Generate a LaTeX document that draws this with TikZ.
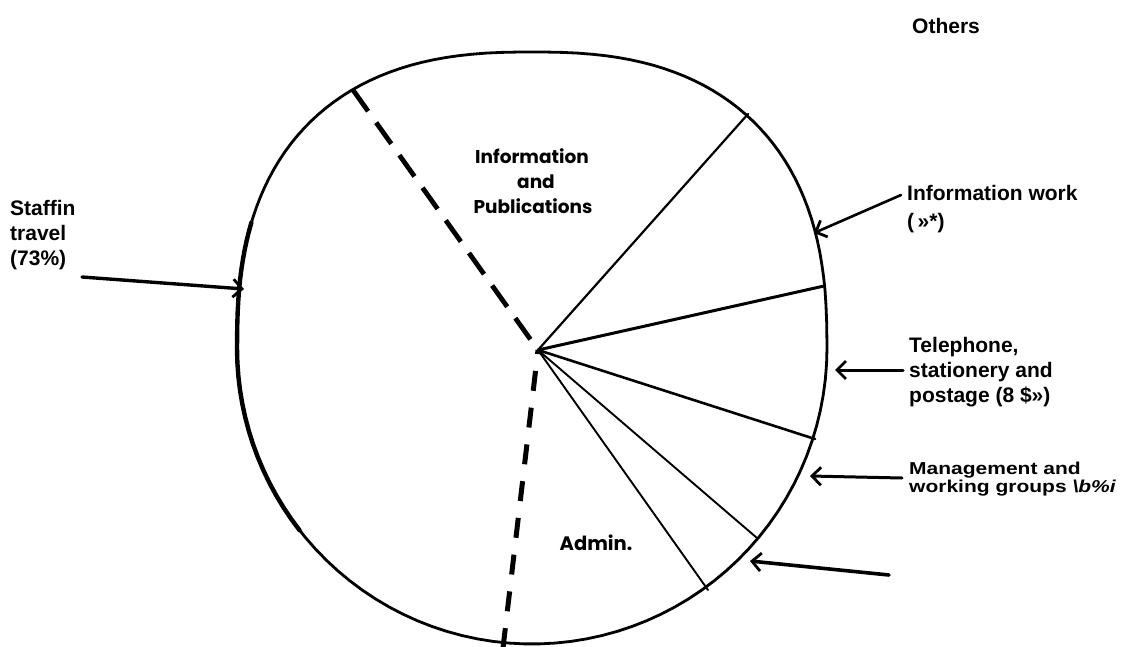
\documentclass[tikz,border=0pt]{standalone}
\usepackage{fontspec}
\setmainfont{Liberation Sans}
\newfontfamily\hand{Poppins}
\usetikzlibrary{arrows.meta}
\begin{document}
\begin{tikzpicture}[x=1pt,y=-1pt,
  rim/.style={line width=2.8pt, line join=round},
  sector/.style={line width=1.8pt, line cap=round},
  dashline/.style={line width=4.8pt, dash pattern=on 26pt off 14pt},
  dashlow/.style={line width=5pt, dash pattern=on 20pt off 17pt},
  pointer/.style={line width=2.8pt, line cap=round, -{Straight Barb[length=9pt,width=18pt,line width=2.8pt]}},
  lab/.style={anchor=base west, inner sep=0pt, font=\fontsize{21}{25}\selectfont\bfseries},
  inlab/.style={anchor=base, inner sep=0pt, font=\hand\fontsize{18.5}{22}\selectfont\bfseries}]
\useasboundingbox (0,0) rectangle (1135,646);
% rim of the pie (hand drawn: a little squarer at the top)
\draw[rim] plot[domain=0.5:179.5, samples=80] ({532+295*cos(\x)/abs(cos(\x))^0.2}, {348-296*sin(\x)^0.8})
  -- plot[domain=180:360, samples=60] ({532+295*cos(\x)}, {348-296*sin(\x)}) -- cycle;
\draw[line width=4.4pt, line cap=round] plot[domain=160:179.5, samples=12] ({532+295*cos(\x)/abs(cos(\x))^0.2}, {348-296*sin(\x)^0.8})
  -- plot[domain=180:218, samples=15] ({532+295*cos(\x)}, {348-296*sin(\x)});
% centre and rim points
\coordinate (O) at (538,350);
\coordinate (d1) at (353,90);
\coordinate (s1) at (748,114);
\coordinate (s2) at (824,286);
\coordinate (s3) at (815,439);
\coordinate (s4) at (757,538);
\coordinate (s5) at (708,590);
\coordinate (d2) at (503,648);
% sector lines
\draw[dashline] (d1) -- (O);
\draw[dashlow] (d2) -- (O);
\draw[sector, line width=2.2pt] (O) -- (s1);
\draw[sector, line width=3pt] (O) -- (s2);
\draw[sector, line width=2.6pt] (O) -- (s3);
\draw[sector, line width=1.9pt] (O) -- (s4);
\draw[sector, line width=1.9pt] (O) -- (s5);
% inner labels
\node[inlab] (ip1) at (532,163) {Information};
\node[inlab] (ip2) at (536,188) {and};
\node[inlab] (ip3) at (533,213) {Publications};
\node[inlab, font=\hand\fontsize{19.5}{22}\selectfont\bfseries] (adm) at (596,550) {Admin.};
% outer labels
\node[lab] (oth) at (912,33) {Others};
\node[lab] (st1) at (10,215) {Staffin};
\node[lab] (st2) at (10,240) {travel};
\node[lab] (st3) at (10,265) {(73\%)};
\node[lab] (iw1) at (907,200) {Information work};
\node[lab] (iw2) at (907,228) {(\,»*)};
\node[lab] (tp1) at (909,352) {Telephone,};
\node[lab] (tp2) at (909,377) {stationery and};
\node[lab] (tp3) at (909,402) {postage (8 \$»)};
\node[lab] (mg1) at (909,474) {\scalebox{1}[0.82]{Management and}};
\node[lab] (mg2) at (909,492) {\scalebox{1}[0.82]{working groups {\itshape\textbackslash b\%i}}};
% pointer arrows
\coordinate (a1s) at (82,277);  \coordinate (a1e) at (244,289);
\coordinate (a2s) at (901,195); \coordinate (a2e) at (814,233);
\coordinate (a3s) at (903,370); \coordinate (a3e) at (835,370);
\coordinate (a4s) at (902,478); \coordinate (a4e) at (810,476);
\coordinate (a5s) at (889,575); \coordinate (a5e) at (750,561);
\draw[pointer, line width=3.4pt] (a1s) -- (a1e);
\draw[pointer, line width=2.6pt] (a2s) -- (a2e);
\draw[pointer, line width=3pt] (a3s) -- (a3e);
\draw[pointer, line width=3pt] (a4s) -- (a4e);
\draw[pointer, line width=3.6pt] (a5s) -- (a5e);
\end{tikzpicture}
\end{document}
